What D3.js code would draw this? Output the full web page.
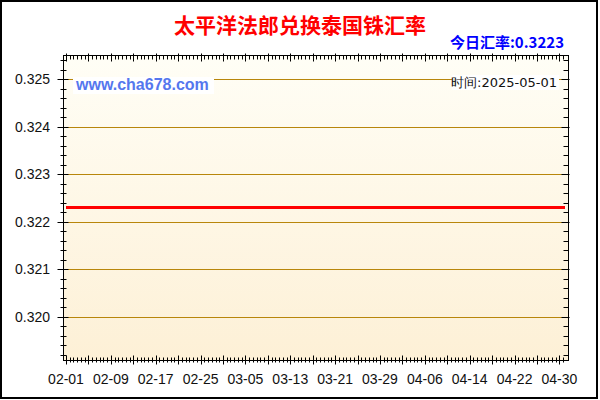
<!DOCTYPE html>
<html>
<head>
<meta charset="utf-8">
<title>太平洋法郎兑换泰国铢汇率</title>
<script src="https://d3js.org/d3.v7.min.js"></script>
<style>
    body { margin: 0; background: #fff; }
    svg { display: block; }
    .ylab, .xlab { font-family: "Liberation Sans", Arial, sans-serif; font-size: 14px; fill: #111; }
</style>
</head>
<body>
<svg width="600" height="400"></svg>
<script>
    // data
    let dates = ['2025-02-01', '2025-02-09', '2025-02-17', '2025-02-25', '2025-03-05', '2025-03-13', '2025-03-21',
                 '2025-03-29', '2025-04-06', '2025-04-14', '2025-04-22', '2025-04-30', '2025-05-01'];
    let rates = [0.3223, 0.3223, 0.3223, 0.3223, 0.3223, 0.3223, 0.3223,
                 0.3223, 0.3223, 0.3223, 0.3223, 0.3223, 0.3223];
    let xTickLabels = ['02-01', '02-09', '02-17', '02-25', '03-05', '03-13', '03-21', '03-29', '04-06', '04-14', '04-22', '04-30'];
    let yTicks = [0.320, 0.321, 0.322, 0.323, 0.324, 0.325];

    let parse = d3.timeParse('%Y-%m-%d');
    let data = dates.map((d, i) => ({date: parse(d), rate: rates[i]}));

    let svg = d3.select('svg');
    let plot = {left: 63.5, right: 568.5, top: 55.5, bottom: 360.5};

    let x = d3.scaleTime()
        .domain([parse('2025-02-01'), parse('2025-05-01')])
        .range([66, 565]);
    let y = d3.scaleLinear()
        .domain([0.31908, 0.32550])
        .range([plot.bottom, plot.top]);

    // outer frame
    svg.append('rect')
        .attr('x', 1).attr('y', 1).attr('width', 596).attr('height', 397)
        .attr('fill', '#fff').attr('stroke', '#000').attr('stroke-width', 2);

    // plot background
    let grad = svg.append('defs').append('linearGradient')
        .attr('id', 'bg').attr('x1', 0).attr('y1', 0).attr('x2', 0).attr('y2', 1);
    grad.append('stop').attr('offset', '0%').attr('stop-color', '#fffef6');
    grad.append('stop').attr('offset', '100%').attr('stop-color', '#fdf0d6');

    svg.append('rect')
        .attr('x', plot.left).attr('y', plot.top)
        .attr('width', plot.right - plot.left).attr('height', plot.bottom - plot.top)
        .attr('fill', 'url(#bg)');

    // grid
    svg.append('g').selectAll('line')
        .data(yTicks)
        .join('line')
        .attr('x1', plot.left).attr('x2', plot.right)
        .attr('y1', d => Math.round(y(d)) + 0.5).attr('y2', d => Math.round(y(d)) + 0.5)
        .attr('stroke', '#b8860b').attr('stroke-width', 1);

    // y ticks (minor every 0.0002)
    let yMinor = d3.range(0.3192, 0.32551, 0.0002);
    let yTickG = svg.append('g').attr('stroke', '#000').attr('stroke-width', 1);
    yTickG.selectAll('.ymin')
        .data(yMinor)
        .join('line')
        .attr('x1', plot.left - 3).attr('x2', plot.left + 3)
        .attr('y1', d => Math.round(y(d)) + 0.5).attr('y2', d => Math.round(y(d)) + 0.5);
    yTickG.selectAll('.yminr')
        .data(yMinor)
        .join('line')
        .attr('x1', plot.right - 5).attr('x2', plot.right)
        .attr('y1', d => Math.round(y(d)) + 0.5).attr('y2', d => Math.round(y(d)) + 0.5);
    yTickG.selectAll('.ymaj')
        .data(yTicks)
        .join('line')
        .attr('x1', plot.left - 6).attr('x2', plot.left + 5)
        .attr('y1', d => Math.round(y(d)) + 0.5).attr('y2', d => Math.round(y(d)) + 0.5);
    yTickG.selectAll('.ymajr')
        .data(yTicks)
        .join('line')
        .attr('x1', plot.right - 7).attr('x2', plot.right + 1)
        .attr('y1', d => Math.round(y(d)) + 0.5).attr('y2', d => Math.round(y(d)) + 0.5);

    svg.append('g').selectAll('text')
        .data(yTicks)
        .join('text')
        .attr('class', 'ylab')
        .attr('x', 50).attr('y', d => y(d) + 5)
        .attr('text-anchor', 'end')
        .text(d => d3.format('.3f')(d));

    // x ticks: minor every 16h, taller every 4 days
    let t0 = parse('2025-02-01');
    let xMinor = d3.range(0, 89 * 24 + 1, 16).map(h => d3.timeHour.offset(t0, h));
    let xTickG = svg.append('g').attr('stroke', '#000').attr('stroke-width', 1);
    xTickG.selectAll('.xmin')
        .data(xMinor)
        .join('line')
        .attr('x1', d => Math.round(x(d)) + 0.5).attr('x2', d => Math.round(x(d)) + 0.5)
        .attr('y1', (d, i) => i % 6 === 0 ? plot.bottom - 5 : plot.bottom - 3)
        .attr('y2', (d, i) => i % 6 === 0 ? plot.bottom + 4 : plot.bottom + 2);
    xTickG.selectAll('.xtop')
        .data(xMinor)
        .join('line')
        .attr('x1', d => Math.round(x(d)) + 0.5).attr('x2', d => Math.round(x(d)) + 0.5)
        .attr('y1', (d, i) => i % 6 === 0 ? plot.top - 2 : plot.top)
        .attr('y2', (d, i) => i % 6 === 0 ? plot.top + 6 : plot.top + 4);

    svg.append('g').selectAll('text')
        .data(xTickLabels)
        .join('text')
        .attr('class', 'xlab')
        .attr('x', d => x(parse('2025-' + d)))
        .attr('y', 384)
        .attr('text-anchor', 'middle')
        .text(d => d);

    // plot frame
    svg.append('rect')
        .attr('x', plot.left).attr('y', plot.top)
        .attr('width', plot.right - plot.left).attr('height', plot.bottom - plot.top)
        .attr('fill', 'none').attr('stroke', '#000').attr('stroke-width', 1);

    // rate line
    let line = d3.line().x(d => x(d.date)).y(d => y(d.rate));
    svg.append('path')
        .datum(data)
        .attr('d', line)
        .attr('fill', 'none')
        .attr('stroke', '#ff0000')
        .attr('stroke-width', 3);

    // labels
    svg.append('text')
        .attr('x', 300).attr('y', 33)
        .attr('text-anchor', 'middle')
        .style('font-family', '"Noto Sans CJK SC", sans-serif')
        .style('font-size', '21px').style('font-weight', 'bold')
        .attr('fill', '#ff0000')
        .text('太平洋法郎兑换泰国铢汇率');

    svg.append('text')
        .attr('x', 564).attr('y', 48)
        .attr('text-anchor', 'end')
        .style('font-family', '"Noto Sans CJK SC", sans-serif')
        .style('font-size', '15px').style('font-weight', 'bold')
        .attr('fill', '#0000ff')
        .text('今日汇率:' + rates[rates.length - 1]);

    svg.append('rect')
        .attr('x', 73).attr('y', 77).attr('width', 141).attr('height', 17)
        .attr('fill', '#fff');
    svg.append('text')
        .attr('x', 76).attr('y', 90)
        .style('font-family', '"Liberation Sans", Arial, sans-serif')
        .style('font-size', '16px').style('font-weight', 'bold')
        .attr('fill', '#5577ee')
        .text('www.cha678.com');

    svg.append('rect')
        .attr('x', 452).attr('y', 75).attr('width', 107).attr('height', 15)
        .attr('fill', '#fff');
    svg.append('text')
        .attr('x', 557).attr('y', 87)
        .attr('text-anchor', 'end')
        .style('font-family', '"DejaVu Sans", sans-serif')
        .style('font-size', '13px')
        .attr('fill', '#111')
        .text('时间:2025-05-01');
</script>
</body>
</html>
